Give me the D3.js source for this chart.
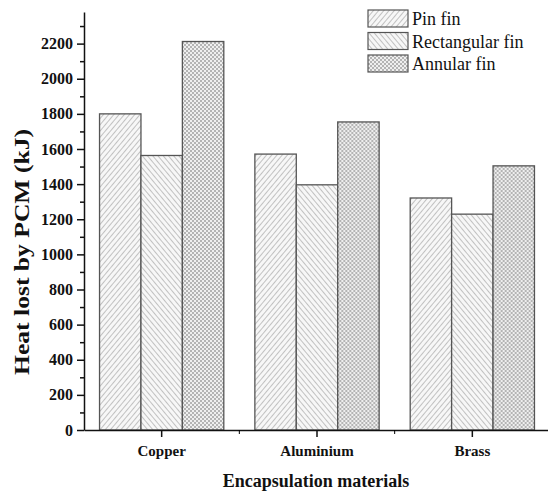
<!DOCTYPE html>
<html>
<head>
<meta charset="utf-8">
<script src="https://cdn.jsdelivr.net/npm/d3@7"></script>
<style>
  body { margin: 0; background: #fff; }
  svg { display: block; font-family: "Liberation Serif", "Times New Roman", serif; }
</style>
</head>
<body>
<svg width="548" height="495"></svg>
<script>
// data
const categories = ["Copper", "Aluminium", "Brass"];
const series = ["Pin fin", "Rectangular fin", "Annular fin"];
const pinFin = [1800, 1571, 1321];
const rectangularFin = [1563, 1396, 1229];
const annularFin = [2212, 1754, 1504];
const yMajorTicks = [0, 200, 400, 600, 800, 1000, 1200, 1400, 1600, 1800, 2000, 2200];
const yMinorTicks = [100, 300, 500, 700, 900, 1100, 1300, 1500, 1700, 1900, 2100, 2300];

const values = [pinFin, rectangularFin, annularFin];

const svg = d3.select('svg');
const plotLeft = 84, plotRight = 550, plotTop = 12, plotBottom = 430;

// patterns for the three fin types
const defs = svg.append('defs');
function hatch(id, dir) {
  const p = defs.append('pattern')
    .attr('id', id)
    .attr('patternUnits', 'userSpaceOnUse')
    .attr('width', 4).attr('height', 4)
    .attr('patternTransform', 'rotate(' + dir + ')');
  p.append('rect').attr('width', 4).attr('height', 4).attr('fill', '#f7f7f7');
  p.append('line').attr('x1', 0).attr('y1', 0).attr('x2', 0).attr('y2', 4)
    .attr('stroke', '#9c9c9c').attr('stroke-width', 1.2);
}
hatch('pin', 40);
hatch('rect', -40);
const chk = defs.append('pattern')
  .attr('id', 'ann')
  .attr('patternUnits', 'userSpaceOnUse')
  .attr('width', 4).attr('height', 4);
chk.append('rect').attr('width', 4).attr('height', 4).attr('fill', '#efefef');
chk.append('rect').attr('width', 2).attr('height', 2).attr('fill', '#b4b4b4');
chk.append('rect').attr('x', 2).attr('y', 2).attr('width', 2).attr('height', 2).attr('fill', '#b4b4b4');
const fills = ['url(#pin)', 'url(#rect)', 'url(#ann)'];

const x0 = d3.scaleBand().domain(categories).range([plotLeft, plotRight]).padding(0);
const bw = x0.bandwidth();
const x1 = d3.scaleBand().domain(series).range([bw * 0.1, bw * 0.9]).padding(0);
const y = d3.scaleLinear().domain([0, 2380]).range([plotBottom, plotTop]);

// bars
const groups = svg.append('g').selectAll('g')
  .data(categories)
  .join('g')
  .attr('transform', d => 'translate(' + x0(d) + ',0)');

groups.selectAll('rect')
  .data((c, ci) => series.map((s, si) => ({ s: s, si: si, v: values[si][ci] })))
  .join('rect')
  .attr('x', d => x1(d.s))
  .attr('y', d => y(d.v))
  .attr('width', x1.bandwidth())
  .attr('height', d => plotBottom - y(d.v))
  .attr('fill', d => fills[d.si])
  .attr('stroke', '#555')
  .attr('stroke-width', 1.3);

// y axis
const yAxis = svg.append('g')
  .attr('transform', 'translate(' + plotLeft + ',0)')
  .call(d3.axisLeft(y).tickValues(yMajorTicks).tickSize(7).tickSizeOuter(0).tickPadding(4)
    .tickFormat(d3.format('d')));
svg.append('g')
  .attr('transform', 'translate(' + plotLeft + ',0)')
  .call(d3.axisLeft(y).tickValues(yMinorTicks).tickSize(4).tickSizeOuter(0).tickFormat(''))
  .select('.domain').remove();
yAxis.selectAll('text')
  .style('font-family', '"Liberation Serif", serif')
  .attr('font-weight', 'bold')
  .attr('font-size', 16)
  .attr('fill', '#111');

// x axis
const xAxis = svg.append('g')
  .attr('transform', 'translate(0,' + plotBottom + ')')
  .call(d3.axisBottom(x0).tickSize(7).tickSizeOuter(0).tickPadding(8));
xAxis.selectAll('text')
  .style('font-family', '"Liberation Serif", serif')
  .attr('font-weight', 'bold')
  .attr('font-size', 15)
  .attr('fill', '#111');
// minor ticks at the band edges
svg.append('g').selectAll('line')
  .data(categories.slice(1))
  .join('line')
  .attr('x1', d => x0(d)).attr('x2', d => x0(d))
  .attr('y1', plotBottom).attr('y2', plotBottom + 4)
  .attr('stroke', '#000');

svg.selectAll('.domain, .tick line').attr('stroke', '#111').attr('stroke-width', 1.5);

// axis titles
svg.append('text')
  .attr('x', (plotLeft + plotRight) / 2 - 1)
  .attr('y', 487)
  .attr('text-anchor', 'middle')
  .attr('font-weight', 'bold')
  .attr('font-size', 18)
  .attr('fill', '#111')
  .text('Encapsulation materials');

svg.append('text')
  .attr('transform', 'translate(29,' + 252 + ') rotate(-90)')
  .attr('text-anchor', 'middle')
  .attr('font-weight', 'bold')
  .attr('font-size', 20)
  .attr('textLength', 246)
  .attr('lengthAdjust', 'spacingAndGlyphs')
  .attr('fill', '#111')
  .text('Heat lost by PCM (kJ)');

// legend
const legend = svg.append('g').selectAll('g')
  .data(series)
  .join('g')
  .attr('transform', (d, i) => 'translate(368,' + (10 + i * 22.5) + ')');
legend.append('rect')
  .attr('width', 40).attr('height', 17)
  .attr('fill', (d, i) => fills[i])
  .attr('stroke', '#555')
  .attr('stroke-width', 1.2);
legend.append('text')
  .attr('x', 44)
  .attr('y', 15)
  .attr('font-size', 18)
  .attr('fill', '#111')
  .text(d => d);
</script>
</body>
</html>
